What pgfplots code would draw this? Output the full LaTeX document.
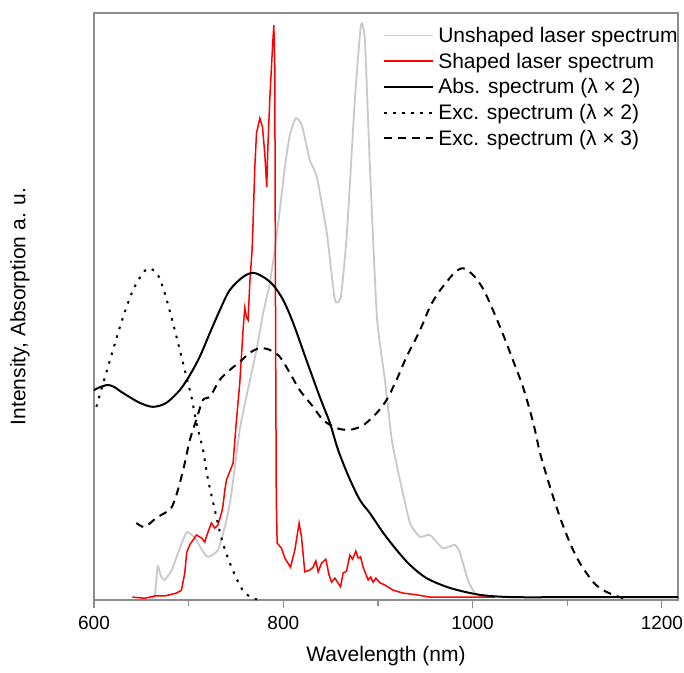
\documentclass[border=0pt]{standalone}
\usepackage{fontspec}
\setmainfont{Liberation Sans}
\usepackage{pgfplots}
\pgfplotsset{compat=1.18}
\definecolor{unshaped}{RGB}{200,200,200}
\definecolor{framegray}{RGB}{140,140,140}

\pgfplotstableread{
x y
658.9 0.003
664.2 0.007
667.3 0.059
670.5 0.042
674.7 0.035
682.1 0.052
690.6 0.090
698.0 0.118
706.5 0.108
714.9 0.085
720.5 0.075
731.1 0.087
740.0 0.139
745.2 0.186
754.0 0.296
762.5 0.365
771.7 0.435
778.3 0.496
785.7 0.551
791.0 0.609
796.3 0.678
801.6 0.753
806.9 0.809
813.2 0.838
819.6 0.826
828.0 0.765
835.4 0.736
846.0 0.638
854.5 0.522
860.8 0.527
867.2 0.638
875.6 0.870
882.0 1.000
886.2 0.974
891.5 0.753
898.9 0.492
907.3 0.383
914.7 0.278
923.2 0.209
933.8 0.134
944.3 0.110
954.9 0.113
968.6 0.090
981.3 0.096
986.6 0.082
995.0 0.035
1002.4 0.012
1013.0 0.005
}\unshaped

\pgfplotstableread{
x y
640.6 0.005
653.6 0.003
664.2 0.007
674.7 0.007
687.1 0.012
692.4 0.017
695.9 0.047
698.0 0.083
701.2 0.096
708.2 0.113
713.5 0.108
717.0 0.101
720.2 0.117
724.1 0.134
727.6 0.125
730.8 0.130
734.7 0.151
736.1 0.162
738.2 0.191
740.0 0.209
746.9 0.238
750.5 0.313
754.0 0.377
757.5 0.470
759.3 0.508
761.1 0.492
762.8 0.487
764.6 0.551
767.0 0.609
767.8 0.643
769.9 0.753
771.7 0.812
775.2 0.838
778.0 0.823
780.4 0.777
782.5 0.718
783.6 0.783
785.7 0.870
788.6 0.962
790.0 1.000
791.0 0.927
791.8 0.487
792.6 0.174
793.5 0.099
798.1 0.090
801.6 0.073
807.6 0.057
812.2 0.087
816.7 0.134
819.2 0.110
822.7 0.049
828.0 0.052
831.5 0.057
834.4 0.068
836.8 0.049
840.4 0.064
844.9 0.071
848.4 0.043
851.0 0.031
854.5 0.038
860.5 0.023
863.2 0.047
866.8 0.050
870.3 0.078
873.2 0.071
876.6 0.085
879.1 0.073
881.6 0.075
884.4 0.057
889.6 0.035
892.2 0.040
894.9 0.031
897.8 0.038
902.0 0.030
907.3 0.026
916.1 0.017
926.6 0.012
940.8 0.009
954.9 0.005
976.0 0.005
997.2 0.005
1023.7 0.005
}\shaped

\pgfplotstableread{
x y
600.0 0.365
606.0 0.370
614.8 0.374
621.9 0.370
630.7 0.360
648.3 0.343
662.4 0.336
676.5 0.343
690.6 0.365
701.2 0.391
711.7 0.423
722.3 0.464
732.9 0.504
743.4 0.539
757.5 0.562
768.1 0.569
778.7 0.562
789.2 0.548
799.8 0.522
810.4 0.482
824.5 0.417
838.6 0.353
849.2 0.308
857.9 0.261
869.2 0.214
880.9 0.174
891.5 0.151
905.5 0.117
919.7 0.087
933.8 0.061
951.4 0.038
976.0 0.021
1007.7 0.009
1042.6 0.005
1113.4 0.005
1217.0 0.005
}\absspec

\pgfplotstableread{
x y
602.5 0.336
611.3 0.386
620.1 0.435
630.7 0.492
641.2 0.539
651.8 0.569
658.9 0.577
667.7 0.565
674.7 0.534
681.8 0.492
688.8 0.447
695.9 0.400
703.0 0.353
708.2 0.308
715.2 0.261
720.2 0.212
727.6 0.157
736.1 0.099
746.6 0.052
757.2 0.017
767.8 0.003
778.3 0.000
}\exctwo

\pgfplotstableread{
x y
644.8 0.134
653.6 0.127
666.0 0.143
680.0 0.157
685.3 0.174
690.6 0.203
695.9 0.238
701.2 0.278
708.0 0.313
715.2 0.348
722.3 0.353
732.9 0.383
743.4 0.400
754.0 0.414
764.6 0.430
775.2 0.438
785.7 0.435
796.3 0.423
806.9 0.395
817.4 0.365
831.5 0.336
842.1 0.313
856.2 0.299
870.3 0.296
884.4 0.304
898.5 0.325
909.1 0.348
919.7 0.383
930.2 0.423
940.8 0.457
947.8 0.482
954.9 0.510
963.6 0.534
972.5 0.553
981.3 0.570
990.1 0.577
1000.6 0.565
1011.2 0.541
1021.8 0.503
1032.4 0.461
1042.9 0.416
1053.5 0.369
1064.1 0.308
1071.2 0.256
1081.7 0.197
1092.3 0.144
1102.9 0.099
1113.4 0.064
1127.5 0.031
1138.1 0.017
1148.7 0.009
1159.2 0.003
}\excthree

\begin{document}
\begin{tikzpicture}
\begin{axis}[
  name=ax,
  scale only axis,
  width=584pt, height=587pt,
  xmin=600, xmax=1217, ymin=0, ymax=1.021,
  axis line style={framegray, line width=1.1pt},
  xtick={600,800,1000,1200},
  minor xtick={700,900,1100},
  ytick=\empty,
  tick align=outside,
  xtick pos=bottom,
  major tick length=8pt, minor tick length=6pt,
  every tick/.style={framegray, line width=1.1pt},
  /pgf/number format/assume math mode=true,
  /pgf/number format/1000 sep={},
  xticklabel style={font=\fontsize{19}{22}\selectfont, anchor=center, yshift=-15pt},
  xlabel={Wavelength (nm)},
  ylabel={Intensity, Absorption a. u.},
  xlabel style={font=\fontsize{21}{24}\selectfont, at={(axis description cs:0.5,-0.095)}, anchor=center},
  ylabel style={font=\fontsize{21}{24}\selectfont, at={(axis description cs:-0.127,0.5)}, anchor=center},
  legend style={at={(axis description cs:0.495,0.978)}, anchor=north west, draw=none, fill=none,
    font=\fontsize{21}{24}\selectfont, row sep=7pt, column sep=3pt, inner sep=0pt, nodes={inner sep=1pt}},
  legend cell align=left,
  legend image code/.code={\draw[#1] (0pt,0pt) -- (49pt,0pt);},
]
\addplot[unshaped, line width=1.8pt, smooth, tension=0.3] table {\unshaped};
\addlegendentry{Unshaped laser spectrum}
\addplot[red, line width=1.5pt] table {\shaped};
\addlegendentry{Shaped laser spectrum}
\addplot[black, line width=2pt, smooth, tension=0.5] table {\absspec};
\addlegendentry{Abs. spectrum (λ × 2)}
\addplot[black, line width=2pt, dash pattern=on 2.5pt off 6.5pt, smooth, tension=0.5] table {\exctwo};
\addlegendentry{Exc. spectrum (λ × 2)}
\addplot[black, line width=2pt, dash pattern=on 8pt off 6pt, smooth, tension=0.5] table {\excthree};
\addlegendentry{Exc. spectrum (λ × 3)}
\end{axis}
\pgfresetboundingbox
\path ([shift={(-94pt,-73pt)}]ax.south west) rectangle ([shift={(6pt,13pt)}]ax.north east);
\end{tikzpicture}
\end{document}
